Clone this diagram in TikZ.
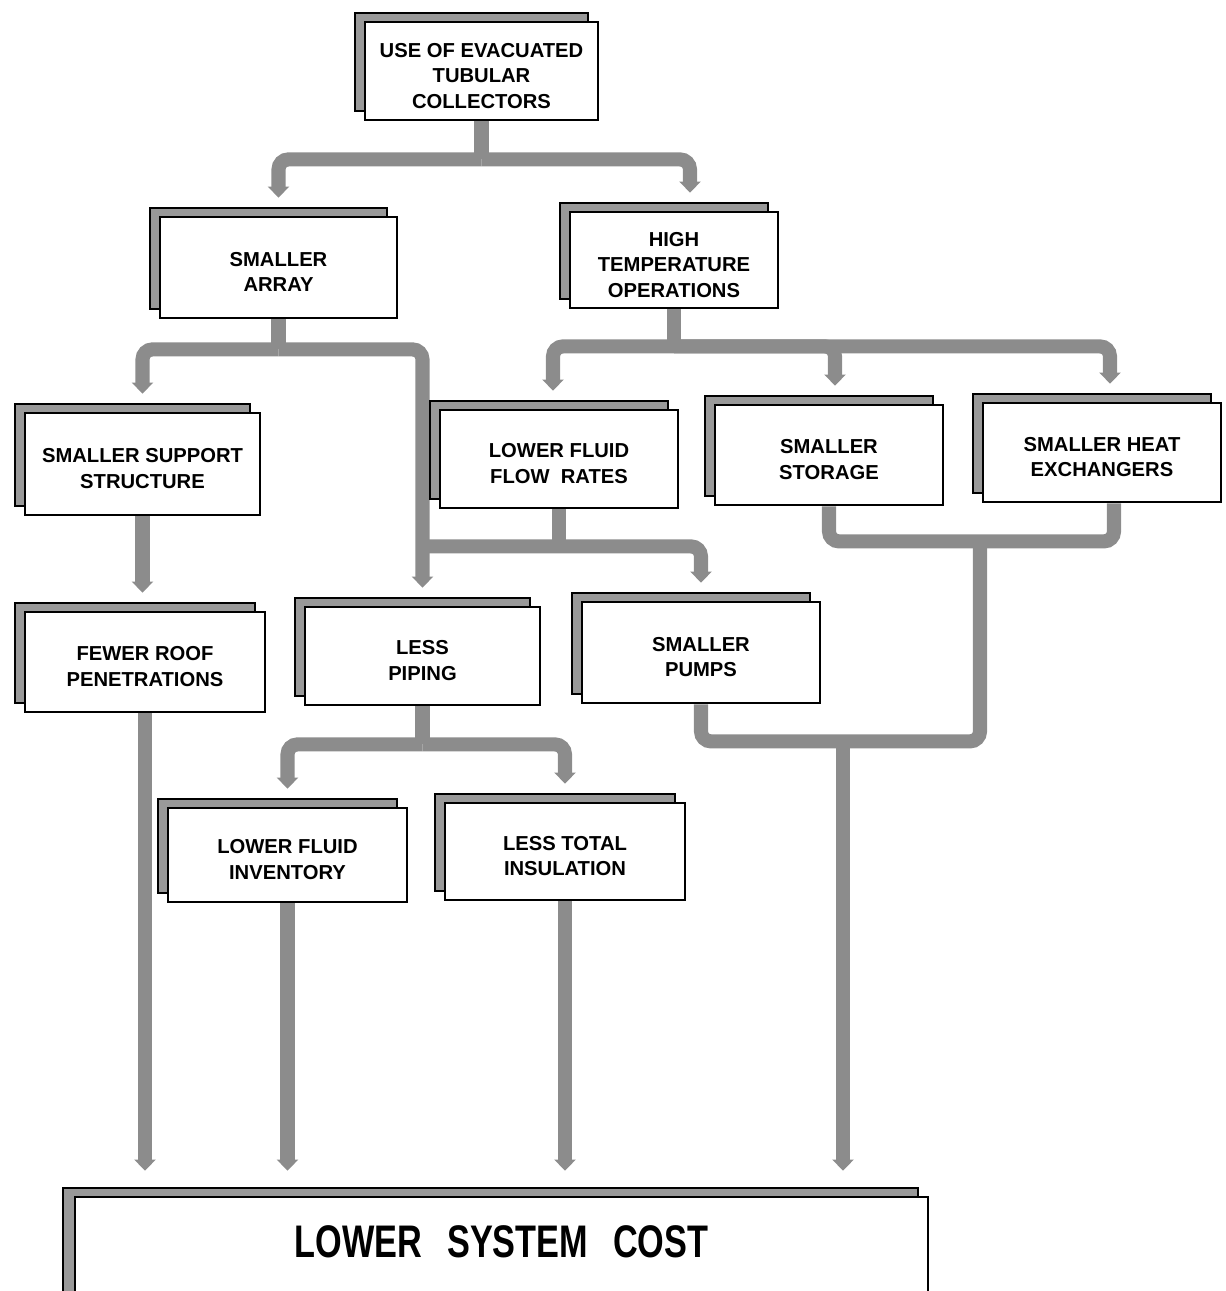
\documentclass[tikz,border=0pt]{standalone}
\usepackage{fontspec}
\setmainfont{Liberation Sans}
\usepackage{graphicx}
\usetikzlibrary{arrows.meta,calc}
\pgfdeclarelayer{bg}
\pgfsetlayers{bg,main}
\tikzset{
 frontbox/.style={draw=black, line width=1.6pt, fill=white, inner sep=0pt, align=center,
   font=\bfseries\fontsize{11.5}{14.5}\selectfont},
 backbox/.style={draw=black, line width=1.4pt, fill=black!40, inner sep=0pt},
 conn/.style={line width=8pt, draw=black!45, rounded corners=0.2cm},
 conna/.style={conn, -{Triangle[width=0.42cm,length=0.22cm]}, shorten >=0.36cm},
 connb/.style={conn, -{Triangle[width=0.42cm,length=0.22cm]}, shorten >=0.5cm},
}
\newcommand\twobox[6]{%
 \node[backbox, minimum width=#4*0.02cm, minimum height=#5*0.02cm] (#1-b) at (#2-10,#3-9) {};
 \node[frontbox, minimum width=#4*0.02cm, minimum height=#5*0.02cm] (#1) at (#2,#3)
   {\raisebox{-0.13cm}[\height][\depth]{\begin{tabular}{@{}c@{}}#6\end{tabular}}};
}
\begin{document}
\begin{tikzpicture}[x=0.02cm,y=-0.02cm]
\useasboundingbox (0,0) rectangle (1225,1291);
\twobox{top}{481.5}{71}{233}{98}{USE OF EVACUATED\\TUBULAR\\COLLECTORS}
\twobox{arr}{278.5}{267.5}{237}{101}{SMALLER\\ARRAY}
\twobox{ht}{674}{260}{208}{96}{HIGH\\TEMPERATURE\\OPERATIONS}
\twobox{sup}{142.5}{464}{235}{102}{SMALLER SUPPORT\\STRUCTURE}
\twobox{roof}{145}{662}{240}{100}{FEWER ROOF\\PENETRATIONS}
\twobox{flow}{559}{459}{238}{98}{LOWER FLUID\\FLOW\ \ RATES}
\twobox{stor}{829}{455}{228}{100}{SMALLER\\STORAGE}
\twobox{heat}{1102}{452.5}{238}{99}{SMALLER HEAT\\EXCHANGERS}
\twobox{pip}{422.5}{656}{235}{98}{LESS\\PIPING}
\twobox{pump}{701}{652.5}{238}{101}{SMALLER\\PUMPS}
\twobox{inv}{287.5}{855}{239}{94}{LOWER FLUID\\INVENTORY}
\twobox{ins}{565}{851.5}{240}{97}{LESS TOTAL\\INSULATION}
\node[backbox, minimum width=855*0.02cm, minimum height=150*0.02cm] (cost-b) at (490.5,1263) {};
\node[frontbox, minimum width=853*0.02cm, minimum height=150*0.02cm, text height=0.7cm, text depth=1.3cm,
  font=\bfseries\fontsize{26}{30}\selectfont] (cost) at (501.5,1272)
  {\scalebox{0.75}[1]{LOWER\hspace{0.45em} SYSTEM\hspace{0.45em} COST}};
\begin{pgfonlayer}{bg}
\draw[conn] (top.south) -- ++(0,38) coordinate (jt);
\draw[conna] (jt) -| (arr.north);
\draw[conna] (jt) -| ($(ht.north)+(16,0)$);
\draw[conn] (arr.south) -- ++(0,30) coordinate (ja);
\draw[conna] (ja) -| (sup.north);
\draw[conna] (ja) -| (pip.north);
\draw[conn] (ht.south) -- ++(0,37) coordinate (jh);
\draw[conna] (jh) -| ($(flow.north)+(-6,0)$);
\draw[conna] (jh) -| ($(stor.north)+(6,0)$);
\draw[conna] (jh) -| ($(heat.north)+(8,0)$);
\draw[conn] (flow.south) -- ++(0,37) coordinate (jf);
\draw[conna] (jf -| pip.north) -| (pump.north);
\draw[conna] (sup.south) -- (sup.south |- roof.north);
\draw[conn] (stor.south) -- ++(0,35) -| ($(heat.south)+(12,0)$);
\coordinate (jv) at (980,540);
\draw[conn] (pump.south) -- ++(0,37) -| (jv);
\coordinate (jo) at (843,740);
\draw[connb] (jo) -- (jo |- cost.north);
\draw[conn] (pip.south) -- ++(0,38) coordinate (jp);
\draw[conna] (jp) -| (inv.north);
\draw[conna] (jp) -| (ins.north);
\draw[connb] (roof.south) -- (roof.south |- cost.north);
\draw[connb] (inv.south) -- (inv.south |- cost.north);
\draw[connb] (ins.south) -- (ins.south |- cost.north);
\end{pgfonlayer}
\end{tikzpicture}
\end{document}
